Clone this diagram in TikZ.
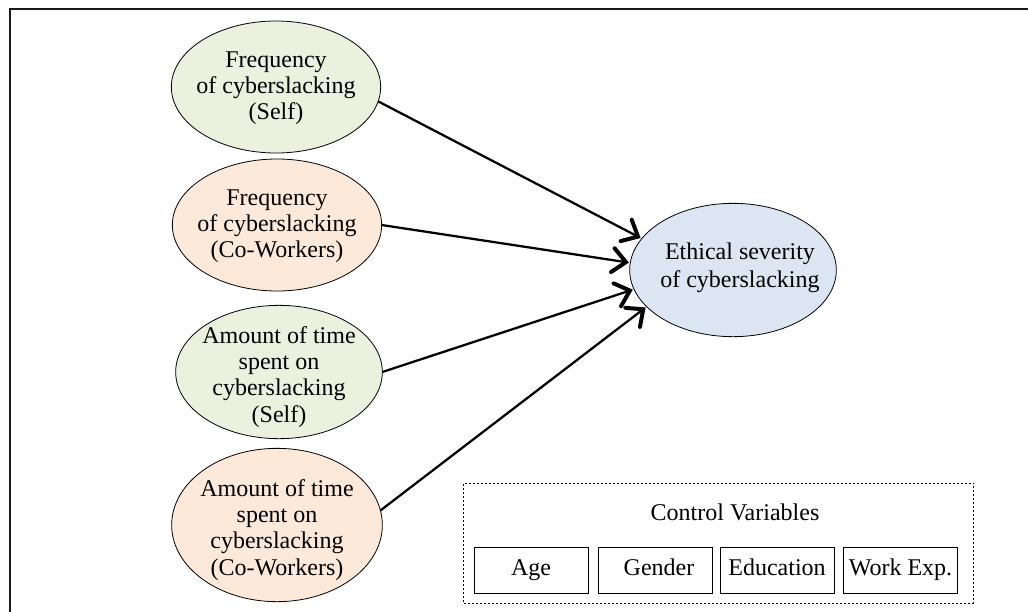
\documentclass[tikz,border=0pt]{standalone}
\usepackage{fontspec}
\setmainfont{Liberation Serif}
\usetikzlibrary{shapes.geometric,arrows.meta}
\definecolor{gfill}{HTML}{EBF1DE}
\definecolor{ofill}{HTML}{FDE9D9}
\definecolor{bfill}{HTML}{DCE6F2}
\tikzset{
  oval/.style={shape=ellipse, draw=black, line width=0.6pt, inner sep=0pt, outer sep=0pt},
  ovaltext/.style={align=center, font=\fontsize{18}{19.6}\selectfont, inner sep=0pt},
  link/.style={line width=1.7pt, -{Straight Barb[length=10pt,width=18pt,line width=3pt,line cap=round]}, shorten >=1pt},
  cvbox/.style={draw=black, line width=0.6pt, minimum width=85.5pt, minimum height=34.5pt, inner sep=0pt, text height=12.5pt, text depth=4pt, font=\fontsize{18}{20}\selectfont},
}
\begin{document}
\begin{tikzpicture}[x=0.75pt,y=-0.75pt]
\useasboundingbox (0,0) rectangle (1028,611);
\begin{scope}
\clip (0,0) rectangle (1028,611);
\draw[line width=2.2pt, draw=black!90] (10,640) -- (10,9) -- (1060,9);
\end{scope}
% input ellipses
\node[oval, fill=gfill, minimum width=157pt, minimum height=99pt] (e1) at (276,87) {};
\node[ovaltext] (e1t) at (276,88) {Frequency\\of cyberslacking\\(Self)};
\node[oval, fill=ofill, minimum width=157pt, minimum height=99pt] (e2) at (277,225) {};
\node[ovaltext] (e2t) at (277,226) {Frequency\\of cyberslacking\\(Co-Workers)};
\node[oval, fill=gfill, minimum width=155pt, minimum height=100pt] (e3) at (279,372) {};
\node[ovaltext] (e3t) at (279,377) {Amount of time\\spent on\\cyberslacking\\(Self)};
\node[oval, fill=ofill, minimum width=158pt, minimum height=115pt] (e4) at (277,525) {};
\node[ovaltext] (e4t) at (277,530) {Amount of time\\spent on\\cyberslacking\\(Co-Workers)};
% target
\node[oval, fill=bfill, minimum width=155pt, minimum height=100pt] (t) at (733,270) {};
\node[ovaltext, font=\fontsize{18}{21}\selectfont] (tt) at (740,268) {Ethical severity\\of cyberslacking};
% connectors
\draw[link] (e1.-8) -- (t.161);
\draw[link] (e2.east) -- (t.176);
\draw[link] (e3.east) -- (t.191);
\draw[link] (e4.8) -- (t.203);
% control variables
\node[draw=black, dashed, dash pattern=on 1.5pt off 1.5pt, line width=0.6pt, minimum width=382pt, minimum height=90pt, inner sep=0pt] (cv) at (718.5,543) {};
\node[font=\fontsize{18}{20}\selectfont, inner sep=0pt] (cvt) at (735,512) {Control Variables};
\node[cvbox] (age) at (531,570) {Age};
\node[cvbox] (gen) at (655,570) {\hspace{6pt}Gender};
\node[cvbox] (edu) at (777,570) {Education};
\node[cvbox] (wrk) at (900.5,570) {Work Exp.};
\end{tikzpicture}
\end{document}
